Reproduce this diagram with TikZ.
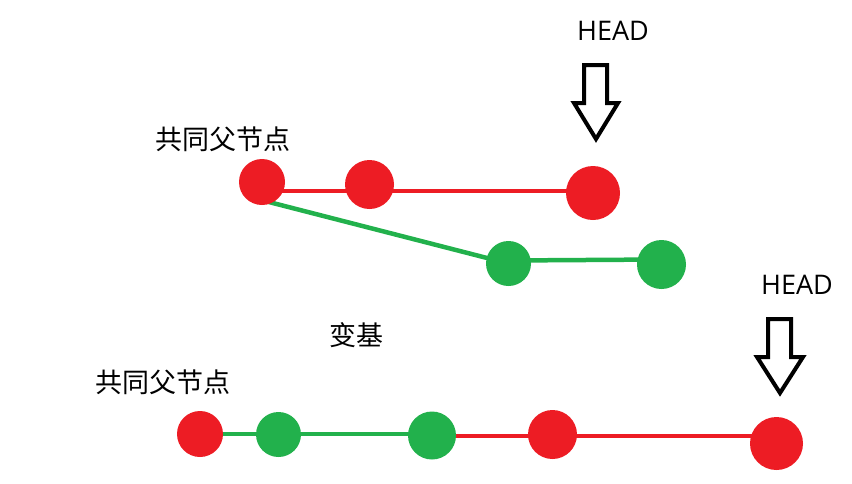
\documentclass[tikz,border=0pt]{standalone}
\usepackage{fontspec}
\setmainfont{Open Sans}
\newfontfamily\cjk{Noto Sans CJK SC}
\pgfdeclarelayer{bg}
\pgfsetlayers{bg,main}
\definecolor{pred}{HTML}{ED1C24}
\definecolor{pgreen}{HTML}{22B14C}
\begin{document}
\begin{tikzpicture}[x=1pt,y=-1pt,
  commit/.style={circle,inner sep=0pt,minimum size=#1},
  rc/.style={commit=#1,fill=pred},
  gc/.style={commit=#1,fill=pgreen},
  rline/.style={draw=pred,line width=4.5pt},
  gline/.style={draw=pgreen,line width=4.5pt},
  lbl/.style={inner sep=0pt,font=\cjk\fontsize{27}{30}\selectfont},
  headlbl/.style={inner sep=0pt,font=\fontsize{27}{30}\selectfont},
  headarrow/.style={draw=black,line width=4pt,fill=white,line join=miter}]
\useasboundingbox (0,0) rectangle (852,483);
% top graph
\node[lbl] (t1) at (223,139) {共同父节点};
\node[rc=46pt] (c1) at (262,182) {};
\node[rc=49pt] (c2) at (369.5,184.5) {};
\node[rc=54pt] (c3) at (593,193) {};
\node[gc=45pt] (g1) at (508.5,263.5) {};
\node[gc=49pt] (g2) at (661.5,264.5) {};
\node[headlbl] (h1) at (613,31) {HEAD};
\node[lbl] (rb) at (356,335.5) {变基};
% bottom graph
\node[lbl] (t2) at (163,382) {共同父节点};
\node[rc=46pt] (b1) at (200,434) {};
\node[gc=45pt] (b2) at (278.5,434.5) {};
\node[gc=48pt] (b3) at (432,435.5) {};
\node[rc=49pt] (b4) at (552.5,434.5) {};
\node[rc=53pt] (b5) at (776.5,443.5) {};
\node[headlbl] (h2) at (797,285) {HEAD};
% arrows
\draw[headarrow] (584,65) -- (607,65) -- (607,103) -- (618,103) -- (596,139)
  -- (574,103) -- (584,103) -- cycle;
\draw[headarrow] (768,319) -- (791,319) -- (791,357) -- (803,357) -- (780,393)
  -- (757,357) -- (768,357) -- cycle;
\begin{pgfonlayer}{bg}
\path[rline] ([yshift=-9pt]c1.center) -- ([yshift=2pt]c3.center);
\path[gline] ([shift={(3pt,-19pt)}]c1.center) -- (g1.center);
\path[gline] ([yshift=3pt]g1.center) -- ([yshift=5pt]g2.center);
\path[gline] (b1.center) -- (b3.center |- b1.center);
\path[rline] ([yshift=-0.5pt]b3.center) -- ([yshift=-0.5pt]b3.center -| b5.center);
\end{pgfonlayer}
\end{tikzpicture}
\end{document}
